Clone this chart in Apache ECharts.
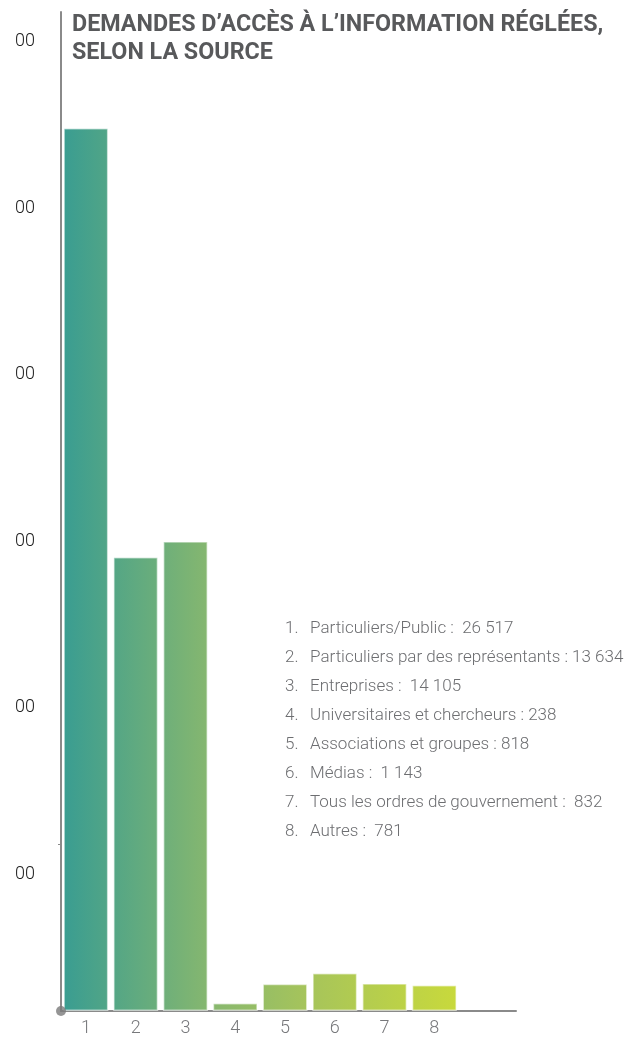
<!DOCTYPE html>
<html>
<head>
<meta charset="utf-8">
<script src="https://cdn.jsdelivr.net/npm/echarts@6/dist/echarts.min.js"></script>
<style>
  html, body { margin: 0; padding: 0; background: #fff; }
  #chart { width: 628px; height: 1040px; }
</style>
</head>
<body>
<div id="chart"></div>
<script>
// Demandes d'accès à l'information réglées, selon la source
const categoryNumbers = [1, 2, 3, 4, 5, 6, 7, 8];
const sourceNames = [
  'Particuliers/Public :  26 517',
  'Particuliers par des représentants : 13 634',
  'Entreprises :  14 105',
  'Universitaires et chercheurs : 238',
  'Associations et groupes : 818',
  'Médias :  1 143',
  'Tous les ordres de gouvernement :  832',
  'Autres :  781'
];
const requestCounts = [26517, 13634, 14105, 238, 818, 1143, 832, 781];
const yTicks = [0, 5000, 10000, 15000, 20000, 25000, 30000];

const chart = echarts.init(document.getElementById('chart'), null, { renderer: 'canvas' });

const FONT = 'Roboto';
const barGradient = new echarts.graphic.LinearGradient(64, 0, 456, 0, [
  { offset: 0, color: '#3a9d91' },
  { offset: 0.37, color: '#86b76f' },
  { offset: 0.62, color: '#a6c45b' },
  { offset: 1, color: '#c8d93c' }
], true);

const fmtThousands = v => String(v).replace(/\B(?=(\d{3})+(?!\d))/g, ' ');

const legendRows = [];
sourceNames.forEach((name, i) => {
  legendRows.push({
    type: 'text', left: 285, top: 620 + i * 29, z: 10,
    style: { text: categoryNumbers[i] + '.', font: '300 17px ' + FONT, fill: '#6d6e71' }
  });
  legendRows.push({
    type: 'text', left: 310, top: 620 + i * 29, z: 10,
    style: { text: name, font: '300 17px ' + FONT, fill: '#6d6e71' }
  });
});

chart.setOption({
  animation: false,
  title: {
    text: 'DEMANDES D’ACCÈS À L’INFORMATION RÉGLÉES,\nSELON LA SOURCE',
    left: 72, top: 11, padding: 0,
    textStyle: { fontFamily: FONT, fontSize: 23.3, fontWeight: 'bold', color: '#58595b', lineHeight: 28 }
  },
  grid: { left: 61, right: 112, top: 12, bottom: 29, containLabel: false, outerBoundsMode: 'none' },
  xAxis: {
    type: 'value', min: 0.5, max: 9.64,
    axisLine: { show: true, lineStyle: { color: '#8a8a8a', width: 2 } },
    axisTick: { show: false },
    splitLine: { show: false },
    axisLabel: {
      customValues: categoryNumbers,
      fontFamily: FONT, fontWeight: 300, fontSize: 18, color: '#77787b', margin: 8
    }
  },
  yAxis: {
    type: 'value', min: 0, max: 30000, interval: 5000,
    axisLine: { show: true, lineStyle: { color: '#8a8a8a', width: 2 } },
    axisTick: { show: true, customValues: [5000], length: 3, lineStyle: { color: '#8a8a8a', width: 1 } },
    splitLine: { show: false },
    axisLabel: {
      customValues: yTicks.slice(1),
      formatter: v => fmtThousands(v),
      fontFamily: FONT, fontWeight: 300, fontSize: 18, color: '#222',
      margin: 26, verticalAlign: 'top', lineHeight: 59
    }
  },
  graphic: [
    { type: 'rect', left: 0, top: 0, z: 100, shape: { width: 15, height: 1000 }, style: { fill: '#fff' } },
    ...legendRows
  ],
  series: [
    {
      type: 'bar',
      data: requestCounts.map((v, i) => [categoryNumbers[i], v]),
      barWidth: 45,
      itemStyle: { color: barGradient, borderColor: 'rgba(255,255,255,0.55)', borderWidth: 1.5 }
    },
    {
      type: 'scatter',
      data: [[0.5, 0]],
      symbolSize: 10,
      itemStyle: { color: '#7a7a7a' },
      z: 5
    }
  ]
});
</script>
</body>
</html>
